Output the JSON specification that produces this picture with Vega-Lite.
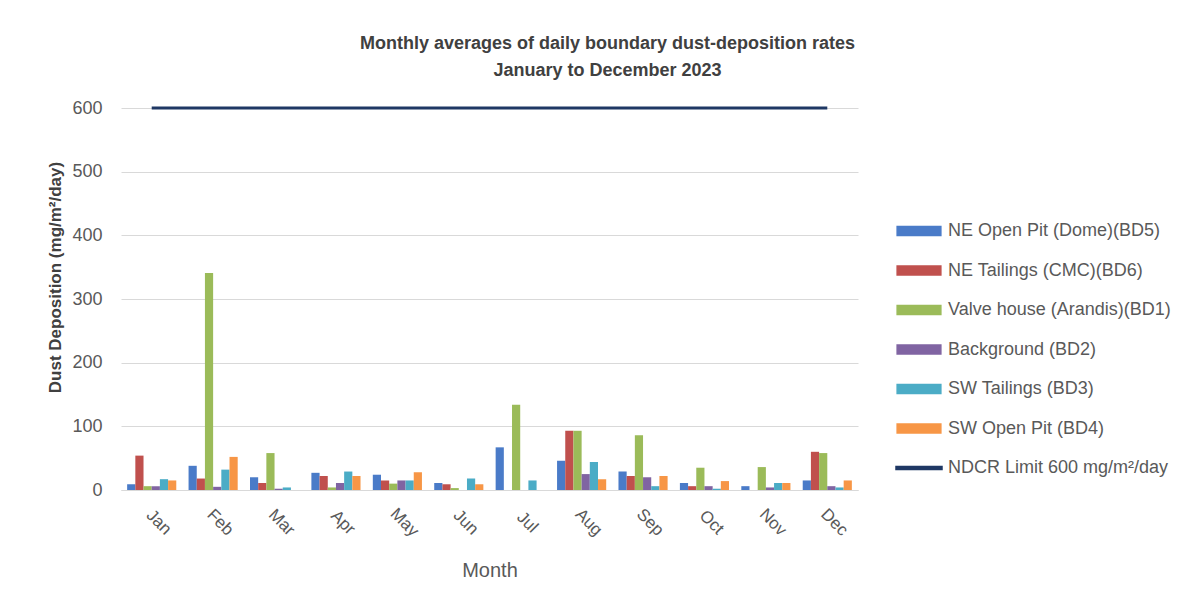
{
  "$schema": "https://vega.github.io/schema/vega-lite/v6.json",
  "width": 737,
  "height": 382,
  "autosize": {"type": "none"},
  "padding": {"left": 121, "top": 108, "right": 345, "bottom": 120},
  "background": "white",
  "title": {
    "text": ["Monthly averages of daily boundary dust-deposition rates", "January to December 2023"],
    "fontSize": 18,
    "fontWeight": "bold",
    "color": "#404040",
    "font": "Liberation Sans",
    "anchor": "middle",
    "frame": "group",
    "dx": 118,
    "offset": 19,
    "lineHeight": 27
  },
  "data": {
    "values": [
      {"month": "Jan", "series": "NE Open Pit (Dome)(BD5)", "value": 9},
      {"month": "Jan", "series": "NE Tailings (CMC)(BD6)", "value": 54},
      {"month": "Jan", "series": "Valve house (Arandis)(BD1)", "value": 6},
      {"month": "Jan", "series": "Background (BD2)", "value": 6},
      {"month": "Jan", "series": "SW Tailings (BD3)", "value": 17},
      {"month": "Jan", "series": "SW Open Pit (BD4)", "value": 15},
      {"month": "Feb", "series": "NE Open Pit (Dome)(BD5)", "value": 38},
      {"month": "Feb", "series": "NE Tailings (CMC)(BD6)", "value": 18},
      {"month": "Feb", "series": "Valve house (Arandis)(BD1)", "value": 341},
      {"month": "Feb", "series": "Background (BD2)", "value": 5},
      {"month": "Feb", "series": "SW Tailings (BD3)", "value": 32},
      {"month": "Feb", "series": "SW Open Pit (BD4)", "value": 52},
      {"month": "Mar", "series": "NE Open Pit (Dome)(BD5)", "value": 20},
      {"month": "Mar", "series": "NE Tailings (CMC)(BD6)", "value": 11},
      {"month": "Mar", "series": "Valve house (Arandis)(BD1)", "value": 58},
      {"month": "Mar", "series": "Background (BD2)", "value": 2},
      {"month": "Mar", "series": "SW Tailings (BD3)", "value": 4},
      {"month": "Mar", "series": "SW Open Pit (BD4)", "value": 0},
      {"month": "Apr", "series": "NE Open Pit (Dome)(BD5)", "value": 27},
      {"month": "Apr", "series": "NE Tailings (CMC)(BD6)", "value": 22},
      {"month": "Apr", "series": "Valve house (Arandis)(BD1)", "value": 4},
      {"month": "Apr", "series": "Background (BD2)", "value": 11},
      {"month": "Apr", "series": "SW Tailings (BD3)", "value": 29},
      {"month": "Apr", "series": "SW Open Pit (BD4)", "value": 22},
      {"month": "May", "series": "NE Open Pit (Dome)(BD5)", "value": 24},
      {"month": "May", "series": "NE Tailings (CMC)(BD6)", "value": 15},
      {"month": "May", "series": "Valve house (Arandis)(BD1)", "value": 10},
      {"month": "May", "series": "Background (BD2)", "value": 15},
      {"month": "May", "series": "SW Tailings (BD3)", "value": 15},
      {"month": "May", "series": "SW Open Pit (BD4)", "value": 28},
      {"month": "Jun", "series": "NE Open Pit (Dome)(BD5)", "value": 11},
      {"month": "Jun", "series": "NE Tailings (CMC)(BD6)", "value": 9},
      {"month": "Jun", "series": "Valve house (Arandis)(BD1)", "value": 3},
      {"month": "Jun", "series": "Background (BD2)", "value": 0},
      {"month": "Jun", "series": "SW Tailings (BD3)", "value": 18},
      {"month": "Jun", "series": "SW Open Pit (BD4)", "value": 9},
      {"month": "Jul", "series": "NE Open Pit (Dome)(BD5)", "value": 67},
      {"month": "Jul", "series": "NE Tailings (CMC)(BD6)", "value": 0},
      {"month": "Jul", "series": "Valve house (Arandis)(BD1)", "value": 134},
      {"month": "Jul", "series": "Background (BD2)", "value": 0},
      {"month": "Jul", "series": "SW Tailings (BD3)", "value": 15},
      {"month": "Jul", "series": "SW Open Pit (BD4)", "value": 0},
      {"month": "Aug", "series": "NE Open Pit (Dome)(BD5)", "value": 46},
      {"month": "Aug", "series": "NE Tailings (CMC)(BD6)", "value": 93},
      {"month": "Aug", "series": "Valve house (Arandis)(BD1)", "value": 93},
      {"month": "Aug", "series": "Background (BD2)", "value": 25},
      {"month": "Aug", "series": "SW Tailings (BD3)", "value": 44},
      {"month": "Aug", "series": "SW Open Pit (BD4)", "value": 17},
      {"month": "Sep", "series": "NE Open Pit (Dome)(BD5)", "value": 29},
      {"month": "Sep", "series": "NE Tailings (CMC)(BD6)", "value": 22},
      {"month": "Sep", "series": "Valve house (Arandis)(BD1)", "value": 86},
      {"month": "Sep", "series": "Background (BD2)", "value": 20},
      {"month": "Sep", "series": "SW Tailings (BD3)", "value": 6},
      {"month": "Sep", "series": "SW Open Pit (BD4)", "value": 22},
      {"month": "Oct", "series": "NE Open Pit (Dome)(BD5)", "value": 11},
      {"month": "Oct", "series": "NE Tailings (CMC)(BD6)", "value": 6},
      {"month": "Oct", "series": "Valve house (Arandis)(BD1)", "value": 35},
      {"month": "Oct", "series": "Background (BD2)", "value": 6},
      {"month": "Oct", "series": "SW Tailings (BD3)", "value": 2},
      {"month": "Oct", "series": "SW Open Pit (BD4)", "value": 14},
      {"month": "Nov", "series": "NE Open Pit (Dome)(BD5)", "value": 6},
      {"month": "Nov", "series": "NE Tailings (CMC)(BD6)", "value": 0},
      {"month": "Nov", "series": "Valve house (Arandis)(BD1)", "value": 36},
      {"month": "Nov", "series": "Background (BD2)", "value": 4},
      {"month": "Nov", "series": "SW Tailings (BD3)", "value": 11},
      {"month": "Nov", "series": "SW Open Pit (BD4)", "value": 11},
      {"month": "Dec", "series": "NE Open Pit (Dome)(BD5)", "value": 15},
      {"month": "Dec", "series": "NE Tailings (CMC)(BD6)", "value": 60},
      {"month": "Dec", "series": "Valve house (Arandis)(BD1)", "value": 58},
      {"month": "Dec", "series": "Background (BD2)", "value": 6},
      {"month": "Dec", "series": "SW Tailings (BD3)", "value": 4},
      {"month": "Dec", "series": "SW Open Pit (BD4)", "value": 15},
      {"month": "Jan", "series": "NDCR Limit 600 mg/m²/day", "value": 600},
      {"month": "Feb", "series": "NDCR Limit 600 mg/m²/day", "value": 600},
      {"month": "Mar", "series": "NDCR Limit 600 mg/m²/day", "value": 600},
      {"month": "Apr", "series": "NDCR Limit 600 mg/m²/day", "value": 600},
      {"month": "May", "series": "NDCR Limit 600 mg/m²/day", "value": 600},
      {"month": "Jun", "series": "NDCR Limit 600 mg/m²/day", "value": 600},
      {"month": "Jul", "series": "NDCR Limit 600 mg/m²/day", "value": 600},
      {"month": "Aug", "series": "NDCR Limit 600 mg/m²/day", "value": 600},
      {"month": "Sep", "series": "NDCR Limit 600 mg/m²/day", "value": 600},
      {"month": "Oct", "series": "NDCR Limit 600 mg/m²/day", "value": 600},
      {"month": "Nov", "series": "NDCR Limit 600 mg/m²/day", "value": 600},
      {"month": "Dec", "series": "NDCR Limit 600 mg/m²/day", "value": 600}
    ]
  },
  "encoding": {
    "x": {
      "field": "month",
      "type": "nominal",
      "sort": ["Jan", "Feb", "Mar", "Apr", "May", "Jun", "Jul", "Aug", "Sep", "Oct", "Nov", "Dec"],
      "scale": {"paddingInner": 0.2, "paddingOuter": 0.1},
      "axis": {
        "title": "Month",
        "titleFont": "Liberation Sans",
        "titleFontSize": 20,
        "titleFontWeight": "normal",
        "titleColor": "#595959",
        "titlePadding": 21,
        "labelAngle": 45,
        "labelAlign": "center",
        "labelBaseline": "middle",
        "labelPadding": 32,
        "labelOffset": 7,
        "labelFont": "Liberation Sans",
        "labelFontSize": 17,
        "labelColor": "#595959",
        "ticks": false,
        "domainColor": "#d9d9d9",
        "domainWidth": 1
      }
    },
    "y": {
      "field": "value",
      "type": "quantitative",
      "scale": {"domain": [0, 600], "nice": false},
      "axis": {
        "title": "Dust Deposition (mg/m²/day)",
        "titleFont": "Liberation Sans",
        "titleFontSize": 17,
        "titleFontWeight": "bold",
        "titleColor": "#404040",
        "titlePadding": 7,
        "titleY": 169,
        "values": [0, 100, 200, 300, 400, 500, 600],
        "labelFont": "Liberation Sans",
        "labelFontSize": 18,
        "labelColor": "#595959",
        "labelPadding": 19,
        "ticks": false,
        "domain": false,
        "gridColor": "#d9d9d9",
        "gridWidth": 1
      }
    },
    "color": {
      "field": "series",
      "type": "nominal",
      "scale": {
        "domain": ["NE Open Pit (Dome)(BD5)", "NE Tailings (CMC)(BD6)", "Valve house (Arandis)(BD1)", "Background (BD2)", "SW Tailings (BD3)", "SW Open Pit (BD4)", "NDCR Limit 600 mg/m²/day"],
        "range": ["#4a7bc8", "#c0504d", "#9bbb59", "#8064a2", "#4bacc6", "#f79646", "#1f3864"]
      },
      "legend": {
        "title": null,
        "orient": "none",
        "legendX": 774,
        "legendY": 99,
        "labelFont": "Liberation Sans",
        "labelFontSize": 18,
        "labelColor": "#595959",
        "labelOffset": 5,
        "labelLimit": 400,
        "symbolSize": 2116,
        "rowPadding": 6.5,
        "encode": {
          "symbols": {
            "update": {
              "shape": {"signal": "datum.value === 'NDCR Limit 600 mg/m²/day' ? 'M-1,-0.07H1V0.07H-1Z' : 'M-0.95,-0.2H0.95V0.2H-0.95Z'"},
              "fill": {"scale": "color", "field": "value"},
              "stroke": {"value": "transparent"},
              "opacity": {"value": 1},
              "fillOpacity": {"value": 1}
            }
          }
        }
      }
    }
  },
  "layer": [
    {
      "transform": [{"filter": "datum.series !== 'NDCR Limit 600 mg/m²/day'"}],
      "mark": {"type": "bar", "opacity": 1},
      "encoding": {
        "xOffset": {
          "field": "series",
          "type": "nominal",
          "sort": ["NE Open Pit (Dome)(BD5)", "NE Tailings (CMC)(BD6)", "Valve house (Arandis)(BD1)", "Background (BD2)", "SW Tailings (BD3)", "SW Open Pit (BD4)"],
          "scale": {"paddingInner": 0, "paddingOuter": 0}
        }
      }
    },
    {
      "transform": [{"filter": "datum.series === 'NDCR Limit 600 mg/m²/day'"}],
      "mark": {"type": "line", "strokeWidth": 3},
      "encoding": {}
    }
  ],
  "config": {
    "view": {"stroke": null}
  }
}
